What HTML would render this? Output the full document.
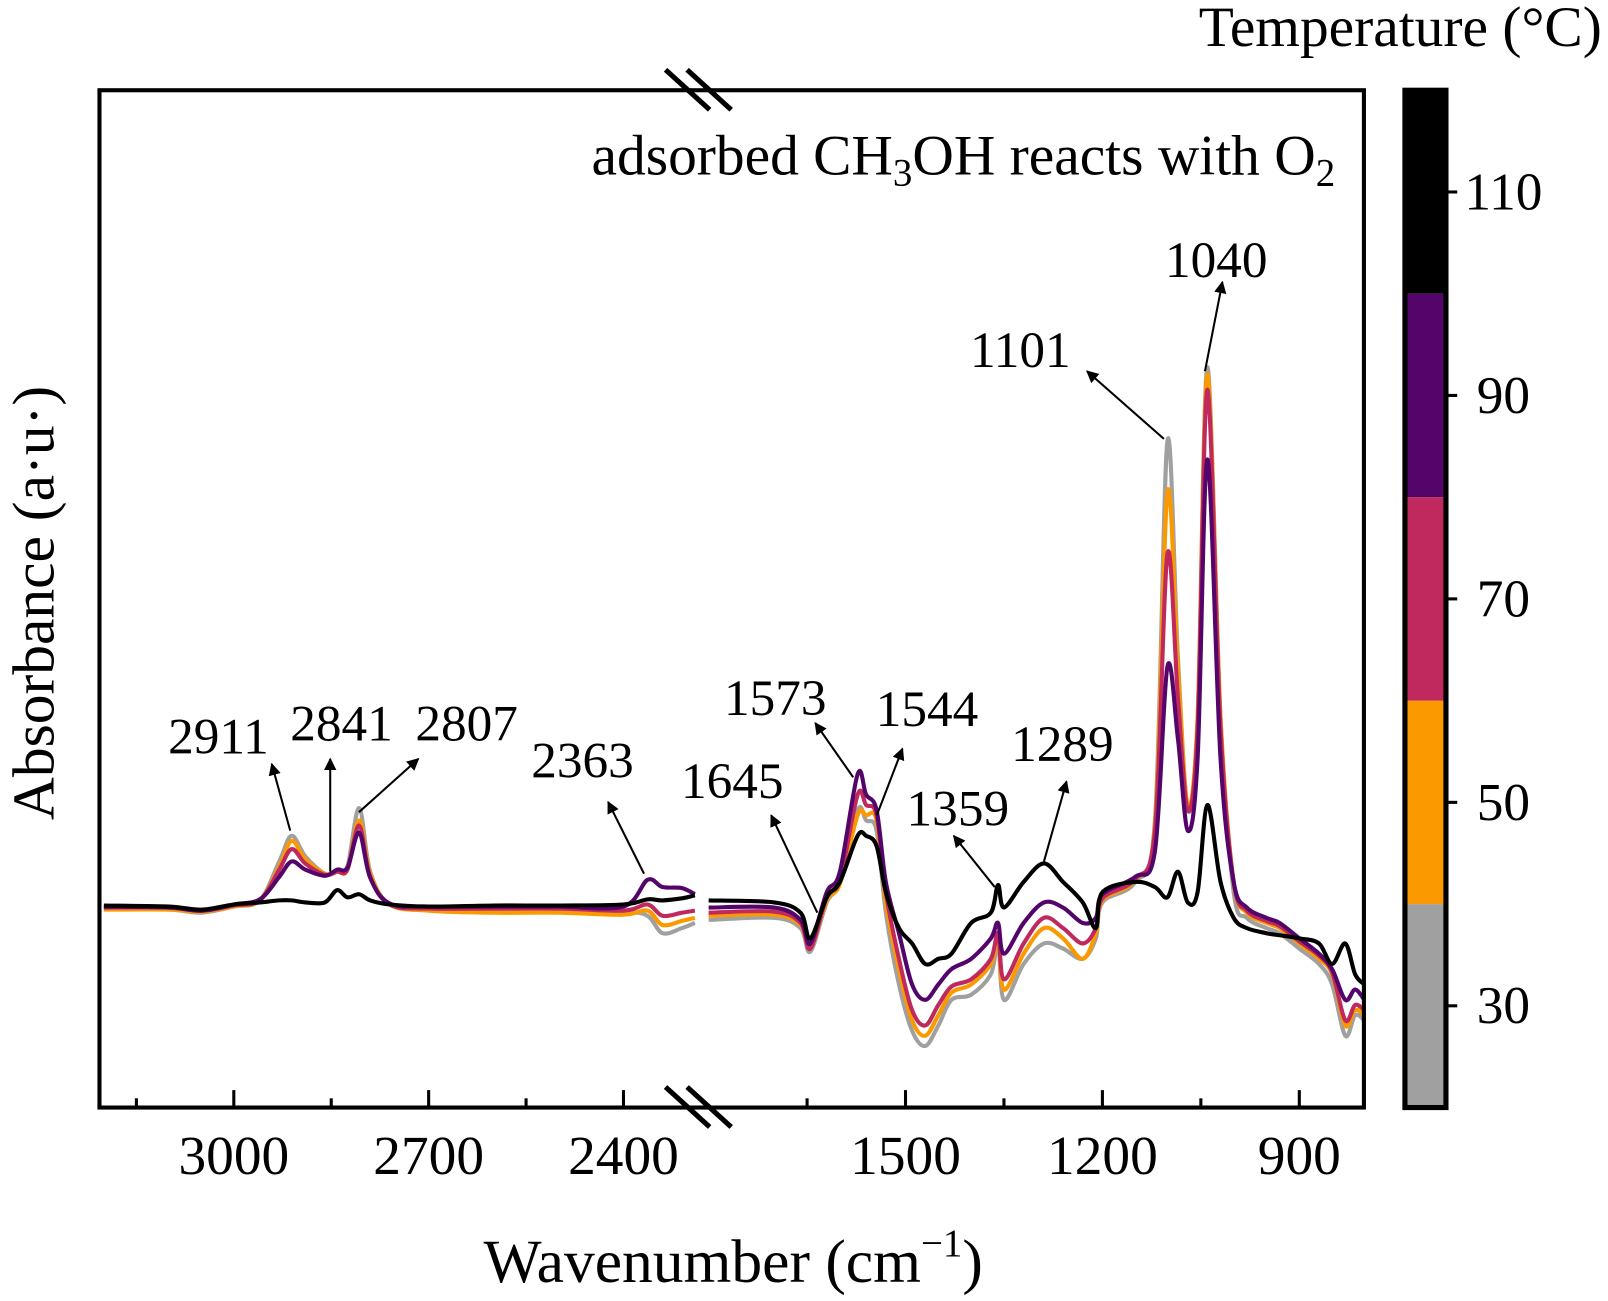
<!DOCTYPE html>
<html><head><meta charset="utf-8"><style>
html,body{margin:0;padding:0;background:#fff}
svg{display:block}
text{font-family:"Liberation Serif",serif;fill:#000}
</style></head><body>
<svg id="chart" width="1608" height="1301" viewBox="0 0 1608 1301" xmlns="http://www.w3.org/2000/svg">
<g id="root" transform="scale(1.0255)">
<g id="curves"></g>
<rect x="97" y="88" width="1233" height="992" fill="none" stroke="#000" stroke-width="4"/>
<g id="ticks"></g>
<g stroke="#000" stroke-width="5">
<line x1="649" y1="68" x2="692" y2="107"/><line x1="670" y1="68" x2="713" y2="107"/></g>
<g stroke="#000" stroke-width="5">
<line x1="649" y1="1060" x2="692" y2="1099"/><line x1="670" y1="1060" x2="713" y2="1099"/></g>
<text x="1302" y="170" font-size="56" text-anchor="end">adsorbed CH<tspan font-size="38" dy="11">3</tspan><tspan dy="-11">OH reacts with O</tspan><tspan font-size="38" dy="11">2</tspan></text>
<text transform="translate(52,588) rotate(-90)" font-size="58" text-anchor="middle">Absorbance (a·u·)</text>
<text x="715" y="1250" font-size="60" text-anchor="middle">Wavenumber (cm<tspan font-size="38" dy="-25">−1</tspan><tspan dy="25">)</tspan></text>
<text x="1562" y="45" font-size="56" text-anchor="end">Temperature (°C)</text>
<g id="cbar"></g>
<g id="annos"></g>
</g>
</svg>
<script>
const wnLeft=[3200,3100,3050,3000,2960,2930,2911,2890,2860,2841,2825,2807,2790,2760,2700,2600,2500,2400,2363,2340,2310,2290];
const wnRight=[1800,1700,1660,1645,1620,1600,1573,1560,1544,1530,1510,1490,1470,1450,1430,1400,1370,1359,1350,1320,1289,1260,1230,1210,1200,1150,1120,1101,1085,1070,1055,1040,1020,1000,980,950,930,900,870,850,830,815,801];
const temps=[30,50,70,90,110];
const colors=["#a0a0a0","#fb9a00","#c0295e","#54056a","#000000"];
const left30=[-0.03,-0.04,-0.07,-0.01,0.05,0.43,0.68,0.48,0.31,0.33,0.38,0.95,0.33,0.01,-0.04,-0.04,-0.04,-0.06,-0.10,-0.27,-0.22,-0.17];
const left50=[-0.04,-0.04,-0.06,-0.01,0.05,0.38,0.63,0.45,0.31,0.33,0.35,0.83,0.31,0.01,-0.05,-0.07,-0.07,-0.09,-0.05,-0.19,-0.15,-0.12];
const left70=[-0.02,-0.02,-0.05,0,0.05,0.35,0.55,0.41,0.30,0.33,0.35,0.78,0.28,0.01,-0.03,-0.03,-0.03,-0.05,0.01,-0.10,-0.07,-0.05];
const left90=[-0.01,-0.02,-0.05,0.01,0.06,0.28,0.43,0.35,0.29,0.35,0.37,0.71,0.27,0.02,-0.01,-0.01,-0.01,-0.01,0.25,0.18,0.17,0.11];
const left110=[0,-0.01,-0.04,0.01,0.03,0.05,0.05,0.03,0.03,0.15,0.08,0.11,0.05,0.01,-0.01,0,0,0.01,0.06,0.05,0.07,0.10];
const right30=[-0.14,-0.12,-0.22,-0.45,0.03,0.23,0.93,0.83,0.73,-0.07,-0.77,-1.22,-1.37,-1.17,-0.92,-0.87,-0.67,-0.37,-0.92,-0.57,-0.37,-0.42,-0.52,-0.32,0.03,0.23,0.83,4.53,2.43,0.93,1.83,5.25,1.83,0.13,-0.12,-0.22,-0.27,-0.42,-0.57,-0.77,-1.27,-1.07,-1.12];
const right50=[-0.10,-0.09,-0.19,-0.42,0.05,0.21,0.88,0.88,0.83,0.03,-0.62,-1.12,-1.27,-1.07,-0.85,-0.77,-0.57,-0.32,-0.82,-0.47,-0.22,-0.32,-0.52,-0.27,0.05,0.25,0.78,4.03,2.33,0.98,1.83,5.18,1.83,0.23,-0.07,-0.17,-0.22,-0.37,-0.52,-0.67,-1.17,-1.02,-1.07];
const right70=[-0.07,-0.06,-0.17,-0.42,0.08,0.25,1.08,0.98,0.88,0.13,-0.52,-1.02,-1.17,-0.97,-0.79,-0.72,-0.52,-0.27,-0.72,-0.37,-0.12,-0.22,-0.37,-0.22,0.07,0.26,0.73,3.43,2.03,0.93,1.73,5.03,1.73,0.23,-0.05,-0.15,-0.20,-0.35,-0.49,-0.65,-1.12,-0.97,-1.02];
const right90=[-0.02,-0.02,-0.14,-0.37,0.13,0.33,1.28,1.08,0.93,0.23,-0.27,-0.77,-0.92,-0.77,-0.62,-0.52,-0.32,-0.17,-0.47,-0.17,0.03,-0.02,-0.17,-0.12,0.11,0.28,0.53,2.33,1.63,0.73,1.43,4.35,1.43,0.23,-0.02,-0.12,-0.17,-0.32,-0.47,-0.62,-0.92,-0.82,-0.92];
const right110=[0.05,0.03,-0.07,-0.32,0.08,0.23,0.68,0.68,0.58,0.13,-0.22,-0.37,-0.57,-0.52,-0.47,-0.17,-0.07,0.20,-0.02,0.23,0.41,0.23,0.03,-0.22,0.13,0.23,0.18,0.08,0.33,0.03,0.13,0.98,0.23,-0.12,-0.22,-0.27,-0.29,-0.32,-0.37,-0.57,-0.37,-0.67,-0.77];
const leftSeries=[left30,left50,left70,left90,left110];
const rightSeries=[right30,right50,right70,right90,right110];
const leftTicks=[3000,2700,2400];
const rightTicks=[1500,1200,900];
const leftMinor=[3150,2850,2550];
const rightMinor=[1650,1350,1050];
const cbarTicks=[30,50,70,90,110];
const peakLabels=["2911","2841","2807","2363","1645","1573","1544","1359","1289","1101","1040"];

const NS="http://www.w3.org/2000/svg";
function xL(w){return 228+(3000-w)*0.6333;}
function xR(w){return 883+(1500-w)*0.64;}
function yV(v){return 883-v*100;}
function mk(tag,attrs,parent){const e=document.createElementNS(NS,tag);for(const k in attrs)e.setAttribute(k,attrs[k]);parent.appendChild(e);return e;}
function smooth(pts){let d="M"+pts[0][0].toFixed(1)+","+pts[0][1].toFixed(1);
 for(let i=0;i<pts.length-1;i++){const p0=pts[Math.max(0,i-1)],p1=pts[i],p2=pts[i+1],p3=pts[Math.min(pts.length-1,i+2)];
  const c1=[p1[0]+(p2[0]-p0[0])/6,p1[1]+(p2[1]-p0[1])/6],c2=[p2[0]-(p3[0]-p1[0])/6,p2[1]-(p3[1]-p1[1])/6];
  d+="C"+c1[0].toFixed(1)+","+c1[1].toFixed(1)+" "+c2[0].toFixed(1)+","+c2[1].toFixed(1)+" "+p2[0].toFixed(1)+","+p2[1].toFixed(1);}
 return d;}
const cg=document.getElementById("curves");
temps.forEach((t,i)=>{
 const pl=wnLeft.map((w,j)=>[xL(w),yV(leftSeries[i][j])]);
 const pr=wnRight.map((w,j)=>[xR(w),yV(rightSeries[i][j])]);
 const a=mk("path",{d:smooth(pl),fill:"none",stroke:colors[i],"stroke-width":4,"stroke-linejoin":"round"},cg);
 
 
 const b=mk("path",{d:smooth(pr),fill:"none",stroke:colors[i],"stroke-width":4,"stroke-linejoin":"round"},cg);
 
 
});
const tg=document.getElementById("ticks");
function tick(x,len,lab){const l=mk("line",{x1:x,y1:1080,x2:x,y2:1080-len,stroke:"#000","stroke-width":3},tg);
 
 
 if(lab!==null){const t=mk("text",{x:x,y:1145,"font-size":54,"text-anchor":"middle"},tg);t.textContent=lab;
  
  }}
leftTicks.forEach(w=>tick(xL(w),17,String(w)));
rightTicks.forEach(w=>tick(xR(w),17,String(w)));
leftMinor.forEach(w=>tick(xL(w),9,null));
rightMinor.forEach(w=>tick(xR(w),9,null));
const cb=document.getElementById("cbar");
const segH=992/temps.length;
temps.forEach((t,i)=>{const r=mk("rect",{x:1370,y:88+(temps.length-1-i)*segH,width:40,height:segH,fill:colors[i]},cb);
 
 });
mk("rect",{x:1370,y:88,width:40,height:992,fill:"none",stroke:"#000","stroke-width":5},cb);
cbarTicks.forEach((t,i)=>{const y=88+(temps.length-1-i)*segH+segH/2;
 mk("line",{x1:1410,y1:y,x2:1421,y2:y,stroke:"#000","stroke-width":3},cb);
 const tx=mk("text",{x:t>=100?1428:1440,y:y+17,"font-size":52},cb);tx.textContent=String(t);
 
 });
const ag=document.getElementById("annos");
const defs=mk("defs",{},ag);
const mkr=mk("marker",{id:"ah",viewBox:"0 0 10 10",refX:9,refY:5,markerWidth:6,markerHeight:6,orient:"auto"},defs);
mk("path",{d:"M0,0 L10,5 L0,10 z",fill:"#000"},mkr);
const labelPos=[[213,735],[333,722],[455,722],[568,758],[714,778],[756,697],[904,708],[934,805],[1036,742],[995,358],[1186,270]];
const arrows=[[283,810,265,745],[322,850,322,740],[350,792,408,740],[628,852,593,782],[797,890,752,795],[832,758,795,705],[855,795,880,730],[970,865,930,815],[1018,840,1040,762],[1135,428,1060,362],[1175,362,1192,275]];
peakLabels.forEach((p,i)=>{const t=mk("text",{x:labelPos[i][0],y:labelPos[i][1],"font-size":50,"text-anchor":"middle"},ag);t.textContent=p;
 
 
 const a=arrows[i];const l=mk("line",{x1:a[0],y1:a[1],x2:a[2],y2:a[3],stroke:"#000","stroke-width":2,"marker-end":"url(#ah)"},ag);
 
 });
</script>
</body></html>
